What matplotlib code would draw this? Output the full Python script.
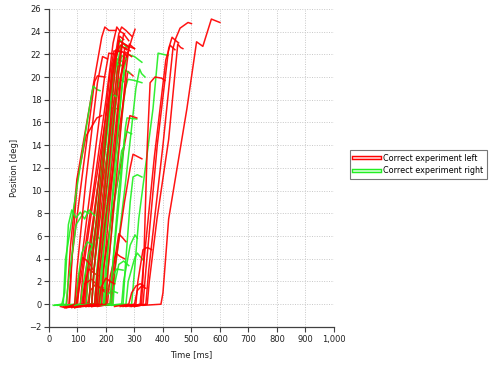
import matplotlib
matplotlib.use("Agg")
import matplotlib.pyplot as plt
from matplotlib.lines import Line2D
from matplotlib.ticker import FuncFormatter
import matplotlib.patheffects as pe

# ---- data: trajectories (time [ms], position [deg]) ----
red_t = [
    [40, 55, 62, 75, 98, 150, 185, 196, 210, 235],
    [50, 70, 80, 120, 160, 170, 196],
    [55, 72, 85, 100, 130, 168, 185],
    [60, 95, 110, 150, 200, 225, 238, 250, 265],
    [70, 110, 120, 160, 215, 245, 255, 270, 290],
    [90, 130, 140, 190, 250, 290, 302],
    [80, 120, 130, 180, 230, 245, 265, 280],
    [60, 100, 110, 150, 195, 210, 235],
    [85, 125, 135, 175, 215, 228, 260, 275],
    [100, 160, 170, 220, 265, 277, 295],
    [110, 180, 190, 235, 272, 284, 308],
    [150, 220, 230, 265, 285, 295, 326],
    [60, 95, 105, 118, 130, 145, 155],
    [80, 120, 128, 140, 160, 175],
    [90, 135, 145, 165, 190, 205],
    [80, 115, 125, 150, 175, 200],
    [150, 205, 215, 235, 250, 265],
    [170, 215, 225, 245, 260, 270],
    [230, 280, 290, 305, 320, 335],
    [270, 325, 333, 345, 355, 372, 395, 407],
    [300, 340, 350, 400, 435, 445, 460, 488, 500],
    [290, 330, 340, 380, 420, 432, 445, 455],
    [285, 320, 330, 370, 410, 425, 442],
    [330, 393, 400, 420, 484, 518, 540, 570, 600],
    [100, 150, 158, 200, 240, 262, 280],
    [90, 140, 148, 190, 230, 250, 272],
    [120, 170, 178, 215, 250, 268, 290],
    [110, 160, 170, 210, 245, 258, 280, 300],
    [260, 305, 312, 330, 345, 360],
    [250, 300, 310, 325, 340],
    [300, 345, 352, 379, 420, 452, 462, 470],
    [130, 175, 183, 200, 215, 230],
    [110, 165, 172, 205, 235, 248, 262],
    [130, 185, 192, 225, 255, 266, 285],
    [95, 150, 158, 190, 222, 235, 255],
    [140, 200, 207, 240, 270, 282, 300],
    [60, 90, 98, 130, 170, 188, 205],
]
red_p = [
    [-0.2, -0.3, 0, 5, 11, 18.5, 23.5, 24.4, 24.1, 24.1],
    [-0.2, 0, 4, 12, 19.6, 20.1, 20.0],
    [-0.3, 0, 6, 11, 14.8, 16.4, 16.6],
    [-0.3, -0.2, 2, 9, 18, 23, 24.4, 24.0, 23.8],
    [-0.2, 0, 3, 10, 19, 23.8, 24.4, 24.1, 23.6],
    [-0.2, 0, 3, 11, 20, 23.3, 24.2],
    [-0.3, 0, 3, 12, 21, 23.2, 22.9, 22.6],
    [-0.3, -0.1, 3, 11, 20, 22.1, 22.0],
    [-0.2, 0, 3, 11, 20.5, 22.3, 22.2, 21.8],
    [-0.2, 0, 3, 11, 18.5, 20.5, 20.1],
    [-0.2, 0, 3, 10, 15, 16.6, 16.4],
    [-0.2, 0, 3, 9, 12, 13.2, 12.8],
    [-0.2, 0, 2.5, 4.1, 3.9, 3.5, 3.0],
    [-0.2, 0, 2, 3.1, 2.7, 2.5],
    [-0.3, 0, 1.2, 1.8, 1.2, 0.9],
    [-0.2, 0, 1.8, 2.2, 1.5, 1.2],
    [-0.2, 0, 2.5, 4.5, 4.2, 4.0],
    [-0.2, 0, 3, 6.2, 5.8, 5.5],
    [-0.2, 0, 1, 1.6, 1.8, 1.6],
    [-0.2, 0, 4, 14, 19.5, 20.0, 19.9, 19.7],
    [-0.2, 0, 3, 14, 22.5, 23.4, 24.3, 24.8, 24.7],
    [-0.2, 0, 3, 14, 22.5, 23.5, 23.2, 23.0],
    [-0.2, 0, 3, 13, 21.5, 22.8, 22.4],
    [-0.1, 0, 1, 7.5, 17.2, 23.1, 22.7, 25.1, 24.8],
    [-0.2, 0, 3, 12, 20.5, 23.8, 23.2],
    [-0.3, -0.1, 3, 13, 21.5, 22.8, 22.4],
    [-0.2, 0, 3, 11, 19.5, 22.2, 21.8],
    [-0.2, 0, 3, 12, 20.5, 23.0, 22.7, 22.5],
    [-0.2, 0, 2, 4.8, 5.0, 4.8],
    [-0.2, 0, 1.2, 1.6, 1.4],
    [-0.2, 0, 2, 7.5, 14.5, 22.9, 22.6, 22.5],
    [-0.2, 0, 1.5, 2.3, 2.0, 1.8],
    [-0.2, 0, 3, 13, 21.5, 23.6, 23.3],
    [-0.2, 0, 3, 12, 20.5, 22.6, 22.3],
    [-0.2, 0, 3, 12, 21, 22.4, 22.2],
    [-0.2, 0, 3, 12, 20.5, 22.9, 22.5],
    [-0.3, 0, 3, 11, 19.5, 21.8, 21.6],
]

green_t = [
    [90, 140, 148, 190, 235, 249, 262, 274],
    [120, 175, 183, 225, 262, 275, 300, 326],
    [230, 290, 297, 315, 365, 383, 400, 418],
    [100, 150, 158, 195, 220, 228, 256],
    [160, 225, 232, 270, 305, 318, 325, 337],
    [130, 190, 198, 235, 268, 277, 300, 326],
    [20, 50, 58, 90, 140, 155, 168, 179],
    [80, 130, 138, 170, 205, 214, 242],
    [150, 215, 222, 250, 268, 274, 308],
    [200, 260, 267, 285, 295, 310, 326],
    [15, 45, 55, 68, 80, 95, 110, 125, 140, 160],
    [60, 110, 118, 140, 160, 168, 178],
    [200, 255, 262, 285, 302, 310],
    [220, 270, 278, 300, 310, 330],
    [150, 200, 208, 225, 238, 260],
    [100, 160, 168, 185, 210],
    [120, 190, 200, 220, 240],
    [90, 140, 148, 185, 225, 240, 255],
    [100, 160, 168, 200, 235, 248, 262],
    [110, 170, 178, 210, 240, 252, 268],
    [40, 90, 98, 115, 135, 150],
    [140, 195, 203, 230, 255, 265],
    [170, 220, 228, 245, 262, 280],
    [30, 60, 68, 95, 125, 140],
    [110, 165, 172, 200, 228, 238, 250],
    [125, 180, 187, 215, 245, 255, 270],
    [140, 195, 202, 230, 258, 268, 285],
    [90, 150, 158, 185, 210, 220, 235],
    [160, 215, 222, 245, 265, 272, 290],
]
green_p = [
    [-0.2, 0, 3, 12, 21.5, 23.3, 22.9, 22.6],
    [-0.1, 0, 3, 12, 20.5, 22.0, 21.8, 21.3],
    [-0.1, 0, 2, 7.5, 17.2, 22.1, 22.0, 21.9],
    [-0.1, 0, 3, 13, 20.5, 21.4, 21.0],
    [-0.1, 0, 3, 11, 19, 20.7, 20.3, 20.0],
    [-0.1, 0, 3, 12, 19, 19.8, 19.7, 19.5],
    [-0.1, 0, 4, 9, 17, 19.2, 18.9, 18.8],
    [-0.1, 0, 3, 10, 16.5, 17.3, 17.2],
    [-0.1, 0, 3, 10, 15.5, 16.4, 16.3],
    [-0.1, 0, 3, 9, 11.2, 11.4, 11.2],
    [-0.1, 0, 1, 7, 8.3, 7.6, 8.1, 7.5, 8.3, 7.8],
    [-0.1, 0, 1.5, 4.5, 5.6, 5.9, 5.8],
    [-0.1, 0, 2, 5.2, 6.1, 5.8],
    [-0.1, 0, 2, 4.0, 4.5, 3.9],
    [-0.1, 0, 1.5, 2.6, 3.1, 3.0],
    [-0.1, 0, 0.8, 1.5, 1.3],
    [-0.1, 0, 0.7, 1.2, 1.0],
    [-0.1, 0, 3, 12, 20, 21.6, 21.4],
    [-0.1, 0, 3, 11, 18.5, 19.8, 19.6],
    [-0.1, 0, 3, 12, 21, 22.8, 22.5],
    [-0.1, 0, 1.5, 4.5, 5.5, 5.2],
    [-0.1, 0, 2, 9, 13.5, 14.0],
    [-0.1, 0, 1.5, 3.5, 3.8, 3.4],
    [-0.1, 0, 2, 7, 8.2, 8.0],
    [-0.1, 0, 3, 12, 20, 21.2, 21.0],
    [-0.1, 0, 3, 12, 20.5, 21.9, 21.6],
    [-0.1, 0, 3, 12, 19.5, 20.6, 20.3],
    [-0.1, 0, 3, 11, 17.5, 18.5, 18.3],
    [-0.1, 0, 3, 10, 14.5, 15.2, 15.0],
]

series_labels = ["Correct experiment left", "Correct experiment right"]
x_ticks = list(range(0, 1001, 100))
y_ticks = list(range(-2, 27, 2))

RED = "#ff0000"
GREEN = "#22ee22"

fig = plt.figure(figsize=(4.92, 3.69), dpi=100)
ax = fig.add_axes([0.0996, 0.114, 0.579, 0.862])

n = max(len(red_t), len(green_t))
for i in range(n):
    if i < len(red_t):
        ax.plot(red_t[i], red_p[i], color=RED, lw=1.1, alpha=0.92, solid_joinstyle="round")
    if i < len(green_t):
        ax.plot(green_t[i], green_p[i], color=GREEN, lw=1.1, alpha=0.92, solid_joinstyle="round")

ax.set_xlim(0, 1000)
ax.set_ylim(-2, 26)
ax.set_xticks(x_ticks)
ax.set_yticks(y_ticks)
ax.xaxis.set_major_formatter(FuncFormatter(lambda v, p: f"{int(v):,}"))
ax.grid(True, color="#c8c8c8", linestyle=(0, (1, 1.5)), linewidth=0.7)
ax.set_axisbelow(True)
for s in ("top", "right"):
    ax.spines[s].set_visible(False)
for s in ("left", "bottom"):
    ax.spines[s].set_color("#404040")
    ax.spines[s].set_linewidth(0.9)
ax.tick_params(direction="out", length=3.5, width=0.8, color="#404040",
               labelsize=6, labelcolor="#222222", pad=2)
ax.set_xlabel("Time [ms]", fontsize=6, color="#222222", labelpad=5)
ax.set_ylabel("Position [deg]", fontsize=6, color="#222222", labelpad=7)

handles = []
for c, light in ((RED, "#ffd0d0"), (GREEN, "#d0ffd0")):
    h = Line2D([0], [0], color=light, lw=1.2,
               path_effects=[pe.Stroke(linewidth=3.2, foreground=c), pe.Normal()])
    handles.append(h)
leg = fig.legend(handles, series_labels, loc="upper left",
                 bbox_to_anchor=(0.703, 0.605), fontsize=5.8, frameon=True,
                 fancybox=False, edgecolor="#555555", handlelength=3.2,
                 handletextpad=0.4, borderpad=0.5, labelspacing=0.45)
leg.get_frame().set_linewidth(0.8)

fig.savefig("out.png", dpi=100)
